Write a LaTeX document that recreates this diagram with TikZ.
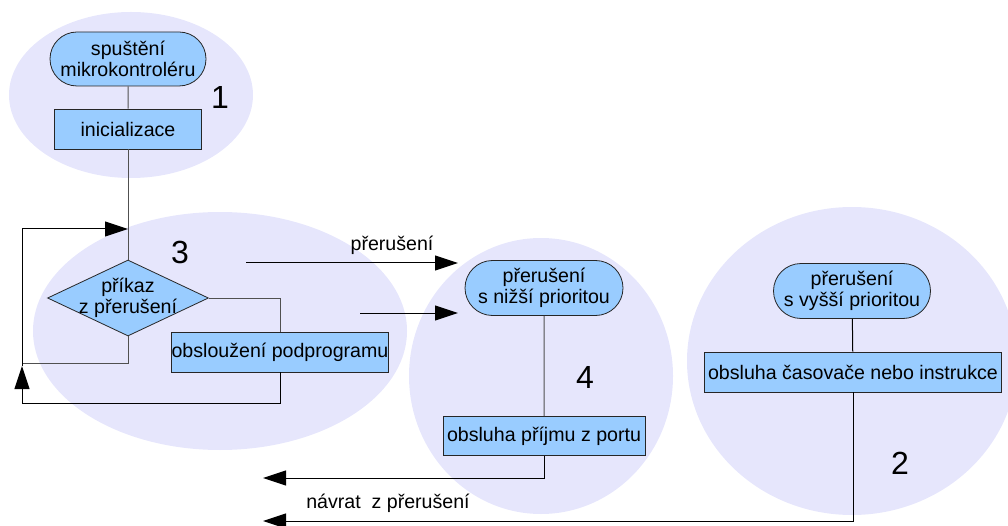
\documentclass[tikz,border=0pt]{standalone}
\usepackage{fontspec}
\setmainfont{Liberation Sans}
\usetikzlibrary{shapes.geometric,shapes.misc,arrows.meta}
\definecolor{ellfill}{RGB}{230,230,252}
\definecolor{nodefill}{RGB}{153,204,255}
\definecolor{linegray}{RGB}{80,80,80}
\tikzset{
  area/.style={fill=ellfill,draw=none},
  term/.style={rounded rectangle,draw=black!85,fill=nodefill,align=center,inner sep=0pt,line width=0.8pt},
  proc/.style={rectangle,draw=black!85,fill=nodefill,align=center,inner sep=0pt,line width=0.8pt},
  conn/.style={draw=linegray,line width=1pt},
  arr/.style={draw=black,line width=1pt,-{Triangle[length=23pt,width=15pt]}},
  num/.style={font=\fontsize{32}{34}\selectfont},
  every node/.append style={font=\fontsize{19.6}{21}\selectfont}
}
\begin{document}
\begin{tikzpicture}[x=1pt,y=-1pt]
\useasboundingbox (0,0) rectangle (1008,526);
% background areas
\fill[area] (131,95) ellipse [x radius=122,y radius=83];
\fill[area] (220,331) ellipse [x radius=187,y radius=119];
\fill[area] (541,376) ellipse [x radius=132,y radius=138];
\fill[area] (852,361) ellipse [x radius=165,y radius=154];
% area numbers
\node[num] (n1) at (220,97) {1};
\node[num] (n3) at (180,252) {3};
\node[num] (n4) at (585,377) {4};
\node[num] (n2) at (900,463) {2};
% main program
\node[term,minimum width=156pt,minimum height=54pt] (start) at (128,59) {spuštění\\mikrokontroléru};
\node[proc,minimum width=147pt,minimum height=40pt] (ini) at (128,129) {inicializace};
\node[diamond,draw=black!85,fill=nodefill,minimum width=161pt,minimum height=76pt,inner sep=0pt,line width=0.8pt] (dia) at (128,298) {};
\node[align=center] (diat) at (128,298) {příkaz\\z přerušení};
\node[proc,minimum width=216pt,minimum height=40pt] (sub) at (280,352) {obsloužení podprogramu};
\coordinate (c1) at (22,363);
\coordinate (c2) at (22,403);
\coordinate (cm) at (22,366);
\coordinate (c4) at (22,229);
\coordinate (join) at (128,229);
\draw[conn] (start) -- (ini);
\draw[conn] (ini) -- (dia.north);
\draw[conn] (dia.south) |- (c1);
\draw[conn] (dia.east) -| (sub.north);
\draw[arr] (sub.south) |- (c2) -- (cm);
\draw[arr] (cm) -- (c4) -- (join);
% interrupt arrows
\coordinate (a1s) at (246,263);
\coordinate (a1e) at (458,263);
\coordinate (a2s) at (360,313);
\coordinate (a2e) at (458,313);
\draw[arr] (a1s) -- (a1e);
\node (lab1) at (392,245) {přerušení};
\draw[arr] (a2s) -- (a2e);
% low priority
\node[term,minimum width=158pt,minimum height=55pt] (low) at (544,288) {přerušení\\s nižší prioritou};
\node[proc,minimum width=202pt,minimum height=39pt] (lowbox) at (544,436) {obsluha příjmu z portu};
\draw[conn] (low) -- (lowbox);
\coordinate (r1) at (263,478);
\draw[arr] (lowbox.south) |- (r1);
\node (lab2) at (388,503) {návrat\ \ z přerušení};
% high priority
\node[term,minimum width=157pt,minimum height=55pt] (high) at (852,291) {přerušení\\s vyšší prioritou};
\node[proc,minimum width=297pt,minimum height=40pt] (highbox) at (853,372) {obsluha časovače nebo instrukce};
\draw[conn,draw=black] (high) -- (highbox);
\coordinate (r2) at (263,521);
\draw[arr] (highbox.south) |- (r2);
\end{tikzpicture}
\end{document}
